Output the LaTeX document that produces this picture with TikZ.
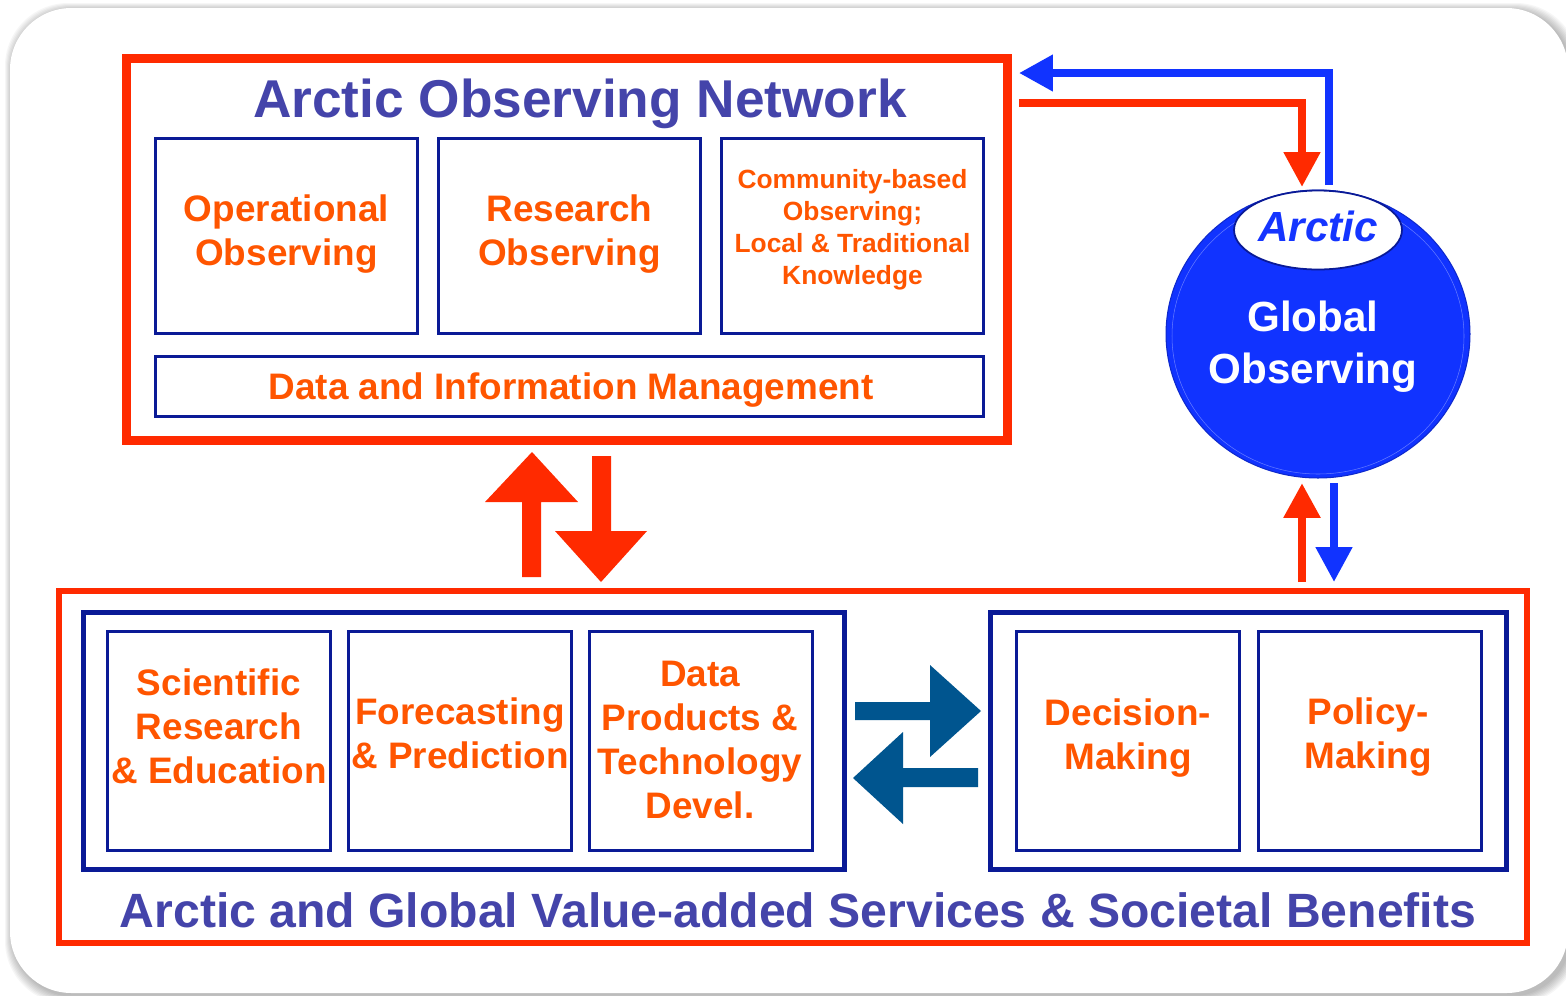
\documentclass[tikz,border=0pt]{standalone}
\usepackage{fontspec}
\setmainfont{Liberation Sans}
\usetikzlibrary{arrows.meta,shapes.geometric}
\definecolor{cred}{HTML}{FF2A00}
\definecolor{corange}{HTML}{FF5500}
\definecolor{cnavy}{HTML}{0A1A96}
\definecolor{ctitle}{HTML}{4444AA}
\definecolor{cteal}{HTML}{00558F}
\definecolor{cblue}{HTML}{1133FF}
\definecolor{ctxtblue}{HTML}{1535FF}
\begin{document}
\begin{tikzpicture}[x=0.02cm,y=-0.02cm,
  redframe/.style={draw=cred, line width=#1, inner sep=0pt},
  redframe/.default=5.1pt,
  groupbox/.style={draw=cnavy, line width=2.8pt, inner sep=0pt},
  innerbox/.style={draw=cnavy, line width=1.7pt, inner sep=0pt},
  boxtext/.style={align=center, text=corange, font=\fontsize{21}{25}\selectfont\bfseries, inner sep=0pt},
  titletext/.style={text=ctitle, font=\fontsize{#1}{#1}\selectfont\bfseries, inner sep=0pt},
  bluelink/.style={draw=cblue, line width=4.5pt, line join=miter},
  redlink/.style={draw=cred, line width=4.6pt, line join=miter},
]
\useasboundingbox (0,0) rectangle (1566,995);
\fill[white] (0,0) rectangle (1566,995);
% soft shadow of the panel
\foreach \k in {1,...,8}{
  \fill[black, opacity=0.035, rounded corners=36]
    (10-\k+3,8-\k+3) rectangle (1568+\k+3,993+\k+3);
}
\fill[white, rounded corners=35] (10,8) rectangle (1568,993);

% ---------- top: Arctic Observing Network ----------
\node[redframe, minimum width=17.64cm, minimum height=7.66cm] (aon) at (567,249.5) {};
\node[titletext=30.3] (aontitle) at (580,104) {Arctic Observing Network};
\node[innerbox, minimum width=5.24cm, minimum height=3.9cm] (oper) at (286.5,236) {};
\node[innerbox, minimum width=5.24cm, minimum height=3.9cm] (resobs) at (569.5,236) {};
\node[innerbox, minimum width=5.24cm, minimum height=3.9cm] (comm) at (852.5,236) {};
\node[innerbox, minimum width=16.56cm, minimum height=1.2cm] (dim) at (569.5,386.5) {};
\node[boxtext] (oper-t) at (286.5,234) {Operational\\Observing};
\node[boxtext] (resobs-t) at (569.5,234) {Research\\Observing};
\node[boxtext, font=\fontsize{15}{18.2}\selectfont\bfseries] (comm-t) at (852.5,230)
  {Community-based\\Observing;\\Local \& Traditional\\Knowledge};
\node[boxtext] (dim-t) at (571,390.5) {Data and Information Management};

% ---------- bottom: services ----------
\node[redframe=3.4pt, minimum width=29.36cm, minimum height=7.04cm] (svc) at (793,767) {};
\node[titletext=27.4] (svctitle) at (798,910) {Arctic and Global Value-added Services \& Societal Benefits};
\node[groupbox, minimum width=15.22cm, minimum height=5.14cm] (lgrp) at (464,741) {};
\node[groupbox, minimum width=10.32cm, minimum height=5.14cm] (rgrp) at (1248.5,741) {};
\node[innerbox, minimum width=4.48cm, minimum height=4.4cm] (sci) at (219,741) {};
\node[innerbox, minimum width=4.48cm, minimum height=4.4cm] (fore) at (460,741) {};
\node[innerbox, minimum width=4.48cm, minimum height=4.4cm] (dprod) at (701,741) {};
\node[innerbox, minimum width=4.48cm, minimum height=4.4cm] (dec) at (1128,741) {};
\node[innerbox, minimum width=4.48cm, minimum height=4.4cm] (pol) at (1370,741) {};
\node[boxtext] (sci-t) at (219,726.5) {Scientific\\Research\\\&~Education};
\node[boxtext] (fore-t) at (460,733) {Forecasting\\\&~Prediction};
\node[boxtext] (dprod-t) at (700,740) {Data\\Products \&\\Technology\\Devel.};
\node[boxtext] (dec-t) at (1128,738) {Decision-\\Making};
\node[boxtext] (pol-t) at (1368,737) {Policy-\\Making};

% ---------- globe ----------
\node[ellipse, fill=cblue, draw=cblue!80!black, line width=0.6pt,
  minimum width=6.08cm, minimum height=5.76cm, inner sep=0pt] (globe) at (1318,334) {};
\draw[white, opacity=0.35, line width=0.3pt] (1318,336) ellipse [x radius=146, y radius=138];
\node[ellipse, fill=white, draw=cnavy, line width=1pt,
  minimum width=3.36cm, minimum height=1.58cm, inner sep=0pt] (arcell) at (1318,230) {};
\node[text=ctxtblue, font=\fontsize{24}{24}\selectfont\bfseries\itshape, inner sep=0pt]
  (arcell-t) at (1318,226) {Arctic};
\node[text=white, align=center, font=\fontsize{24}{29.5}\selectfont\bfseries, inner sep=0pt]
  (globtxt) at (1313,347) {Global\\Observing};

% ---------- thin connectors ----------
\coordinate (bstart) at (1329,185);
\coordinate (btip) at (1019,73);
\coordinate (rstart) at (1019,103);
\coordinate (rtip) at (1302,187);
\draw[bluelink, -{Triangle[length=19.3pt,width=19.8pt]}] (bstart) |- (btip);
\draw[redlink, -{Triangle[length=19.8pt,width=19.8pt]}] (rstart) -| (rtip);
\coordinate (rup0) at (1302,582);
\coordinate (rup1) at (1302,483);
\coordinate (bdn0) at (1334,483);
\coordinate (bdn1) at (1334,582);
\draw[redlink, line width=5pt, -{Triangle[length=19.8pt,width=19.8pt]}] (rup0) -- (rup1);
\draw[bluelink, -{Triangle[length=19.8pt,width=19.8pt]}] (bdn0) -- (bdn1);

% ---------- block arrows ----------
\fill[cred] (522,577) -- (522,502) -- (485,502) -- (532,452) -- (578,502) -- (541,502) -- (541,577) -- cycle;
\fill[cred] (592,456) -- (611,456) -- (611,531) -- (647,531) -- (601,582) -- (555,531) -- (592,531) -- cycle;
\fill[cteal] (855,702) -- (930,702) -- (930,665) -- (981,711) -- (930,757) -- (930,720) -- (855,720) -- cycle;
\fill[cteal] (978,768) -- (903,768) -- (903,732) -- (853,778) -- (903,824) -- (903,787) -- (978,787) -- cycle;
\end{tikzpicture}
\end{document}
